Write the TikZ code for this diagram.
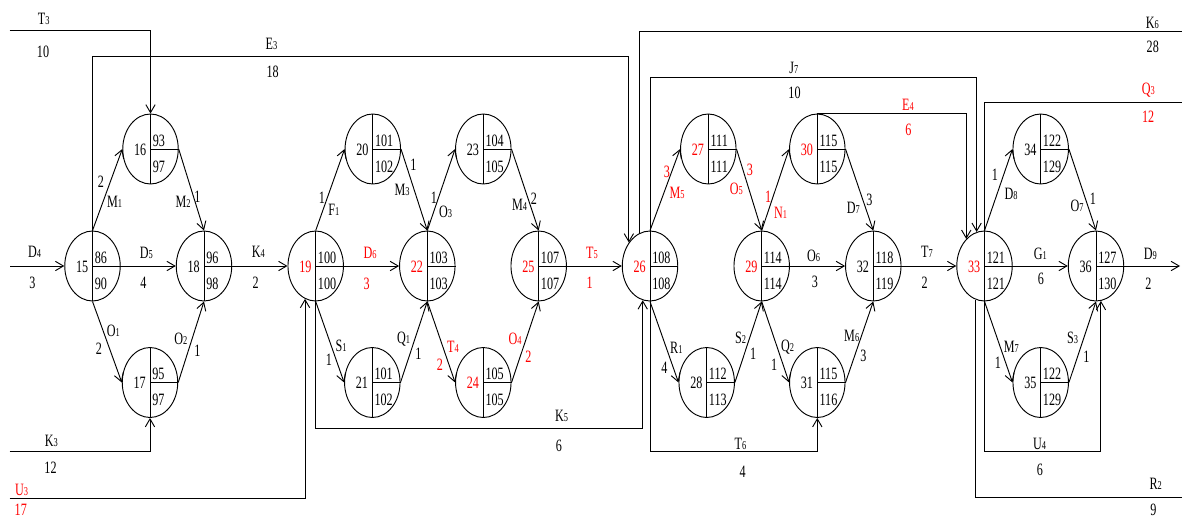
\documentclass[tikz,border=0pt]{standalone}
\usepackage{fontspec}
\setmainfont{Liberation Serif}[FakeStretch=0.7]
\usetikzlibrary{shapes.geometric,arrows.meta}
\tikzset{
 evt/.style={ellipse, draw, line width=0.7pt, minimum width=41.6pt, minimum height=52.5pt, inner sep=0pt},
 conn/.style={line width=0.7pt},
 arr/.style={conn, -{Straight Barb[length=6pt,width=7pt]}},
 lab/.style={inner sep=0pt, font=\fontsize{13}{15}\selectfont},
 rlab/.style={lab, text=red},
 num/.style={inner sep=0pt, font=\fontsize{13}{15}\selectfont},
}
\newcommand\sbl[2]{#1{\fontsize{9}{9}\selectfont #2}}
\newcommand\ev[7]{%
 \node[evt] (#1) at (#2,#3) {};
 \draw[conn] (#1.north) -- (#1.south) (#1.center) -- (#1.east);
 \node[num, anchor=base east, text=#7] (#1id) at ({#2-4},{#3+6}) {#4};
 \node[num, anchor=base west] (#1t) at ({#2+2},{#3-3}) {#5};
 \node[num, anchor=base west] (#1b) at ({#2+2},{#3+23}) {#6};
}
\newcommand\lb[4][lab]{\node[#1] (#2) at (#3) {#4};}
\begin{document}
\begin{tikzpicture}[x=0.75pt,y=-0.75pt]
\useasboundingbox (0,0) rectangle (1182,518);
% events
\ev{n15}{92.5}{266}{15}{86}{90}{black}
\ev{n16}{150.5}{149}{16}{93}{97}{black}
\ev{n17}{150}{382.5}{17}{95}{97}{black}
\ev{n18}{204}{266}{18}{96}{98}{black}
\ev{n19}{315.7}{266}{19}{100}{100}{red}
\ev{n20}{372.8}{149}{20}{101}{102}{black}
\ev{n21}{372.3}{382.5}{21}{101}{102}{black}
\ev{n22}{427.3}{266}{22}{103}{103}{red}
\ev{n23}{483.3}{149}{23}{104}{105}{black}
\ev{n24}{483.3}{382.5}{24}{105}{105}{red}
\ev{n25}{538.7}{266}{25}{107}{107}{red}
\ev{n26}{650}{266}{26}{108}{108}{red}
\ev{n27}{708.3}{149}{27}{111}{111}{red}
\ev{n28}{706.7}{382.5}{28}{112}{113}{black}
\ev{n29}{761.7}{266}{29}{114}{114}{red}
\ev{n30}{817.3}{149}{30}{115}{115}{red}
\ev{n31}{817.3}{382.5}{31}{115}{116}{black}
\ev{n32}{873.3}{266}{32}{118}{119}{black}
\ev{n33}{984.5}{266}{33}{121}{121}{red}
\ev{n34}{1040.7}{149}{34}{122}{129}{black}
\ev{n35}{1040.7}{382.5}{35}{122}{129}{black}
\ev{n36}{1096}{266}{36}{127}{130}{black}
% free ends and corners
\coordinate (t3a) at (9.5,30.7);
\coordinate (d4a) at (10,266);
\coordinate (k3a) at (9.5,451.7);
\coordinate (u3a) at (9.5,498.5);
\coordinate (e3a) at (92.5,56.5);
\coordinate (k5a) at (315.7,428);
\coordinate (k6a) at (1182,31);
\coordinate (j7a) at (650,77.7);
\coordinate (t6a) at (650,451.7);
\coordinate (q3a) at (1182,102);
\coordinate (u4a) at (984.5,451.7);
\coordinate (r2a) at (1182,497);
\coordinate (d9a) at (1180,266);
% connectors
\draw[arr] (t3a) -| (n16.north);
\draw[arr] (d4a) -- (n15.west);
\draw[arr] (k3a) -| (n17.south);
\draw[arr] (u3a) -| (n19.252);
\draw[arr] (n15.north) -- (e3a) -| (n26.132);
\draw[arr] (n15.north) -- (n16.west);
\draw[arr] (n16.east) -- (n18.north);
\draw[arr] (n15.east) -- (n18.west);
\draw[arr] (n15.south) -- (n17.west);
\draw[arr] (n17.east) -- (n18.south);
\draw[arr] (n18.east) -- (n19.west);
\draw[arr] (n19.north) -- (n20.west);
\draw[arr] (n20.east) -- (n22.north);
\draw[arr] (n19.east) -- (n22.west);
\draw[arr] (n19.south) -- (n21.west);
\draw[arr] (n21.east) -- (n22.south);
\draw[arr] (n22.north) -- (n23.west);
\draw[arr] (n23.east) -- (n25.north);
\draw[arr] (n22.south) -- (n24.west);
\draw[arr] (n24.east) -- (n25.south);
\draw[arr] (n25.east) -- (n26.west);
\draw[arr] (n19.south) -- (k5a) -| (n26.258);
\draw[conn] (n26.108) |- (k6a);
\draw[arr] (n26.north) -- (j7a) -| (n33.103);
\draw[arr] (n30.north) -| (n33.124);
\draw[arr] (n26.north) -- (n27.west);
\draw[arr] (n27.east) -- (n29.north);
\draw[arr] (n29.north) -- (n30.west);
\draw[arr] (n30.east) -- (n32.north);
\draw[arr] (n29.east) -- (n32.west);
\draw[arr] (n32.east) -- (n33.west);
\draw[arr] (n26.south) -- (n28.west);
\draw[arr] (n28.east) -- (n29.south);
\draw[arr] (n29.south) -- (n31.west);
\draw[arr] (n31.east) -- (n32.south);
\draw[arr] (n26.south) -- (t6a) -| (n31.south);
\draw[conn] (n33.north) |- (q3a);
\draw[arr] (n33.north) -- (n34.west);
\draw[arr] (n34.east) -- (n36.north);
\draw[arr] (n33.east) -- (n36.west);
\draw[arr] (n36.east) -- (d9a);
\draw[arr] (n33.south) -- (n35.west);
\draw[arr] (n35.east) -- (n36.south);
\draw[arr] (n33.south) -- (u4a) -| (n36.278);
\draw[conn] (n33.255) |- (r2a);
% labels left
\lb{lT3}{43.7,19}{\sbl{T}{3}}
\lb{lT3n}{43,51.7}{10}
\lb{lE3}{271.5,44}{\sbl{E}{3}}
\lb{lE3n}{272.7,71.7}{18}
\lb{lM1n}{101,182}{2}
\lb{lM1}{114.5,201.7}{\sbl{M}{1}}
\lb{lM2}{183,201.7}{\sbl{M}{2}}
\lb{lM2n}{197.5,196.7}{1}
\lb{lD4}{34.5,252}{\sbl{D}{4}}
\lb{lD4n}{32.5,283}{3}
\lb{lD5}{146.3,253}{\sbl{D}{5}}
\lb{lD5n}{143.3,283}{4}
\lb{lK4}{258.3,252}{\sbl{K}{4}}
\lb{lK4n}{255.7,283}{2}
\lb{lO1}{113.3,331}{\sbl{O}{1}}
\lb{lO1n}{99,349}{2}
\lb{lO2}{180.8,339}{\sbl{O}{2}}
\lb{lO2n}{197.5,351}{1}
\lb{lK3}{51.3,440.5}{\sbl{K}{3}}
\lb{lK3n}{50.5,467.5}{12}
\lb[rlab]{lU3}{21.7,490}{\sbl{U}{3}}
\lb[rlab]{lU3n}{20.8,509.5}{17}
% labels middle
\lb{lF1n}{322,197.5}{1}
\lb{lF1}{333.8,209.7}{\sbl{F}{1}}
\lb{lM3n}{413.3,165}{1}
\lb{lM3}{402,189.5}{\sbl{M}{3}}
\lb{lO3n}{434,197.5}{1}
\lb{lO3}{445.5,212}{\sbl{O}{3}}
\lb{lM4}{519.5,205}{\sbl{M}{4}}
\lb{lM4n}{534,199}{2}
\lb[rlab]{lD6}{370,253}{\sbl{D}{6}}
\lb[rlab]{lD6n}{366.7,283.5}{3}
\lb[rlab]{lT5}{592,253}{\sbl{T}{5}}
\lb[rlab]{lT5n}{589.7,283}{1}
\lb{lS1}{341,346}{\sbl{S}{1}}
\lb{lS1n}{329,360}{1}
\lb{lQ1}{403.7,339.5}{\sbl{Q}{1}}
\lb{lQ1n}{418.5,353.3}{1}
\lb[rlab]{lT4}{453,346.7}{\sbl{T}{4}}
\lb[rlab]{lT4n}{440,365}{2}
\lb[rlab]{lO4}{515,339}{\sbl{O}{4}}
\lb[rlab]{lO4n}{528.3,356.3}{2}
\lb{lK5}{561.7,415.8}{\sbl{K}{5}}
\lb{lK5n}{559,446}{6}
% labels right
\lb{lK6}{1152.3,22.5}{\sbl{K}{6}}
\lb{lK6n}{1152.8,46.7}{28}
\lb{lJ7}{793.8,67.5}{\sbl{J}{7}}
\lb{lJ7n}{794.5,92.7}{10}
\lb[rlab]{lE4}{908,104.5}{\sbl{E}{4}}
\lb[rlab]{lE4n}{908.3,129.7}{6}
\lb[rlab]{lM5n}{667,171.7}{3}
\lb[rlab]{lM5}{677,192.5}{\sbl{M}{5}}
\lb[rlab]{lO5}{736.3,189}{\sbl{O}{5}}
\lb[rlab]{lO5n}{750,169.7}{3}
\lb[rlab]{lN1n}{768.2,196.7}{1}
\lb[rlab]{lN1}{780.7,213}{\sbl{N}{1}}
\lb{lD7}{853.3,207.8}{\sbl{D}{7}}
\lb{lD7n}{869.5,200}{3}
\lb{lO6}{813.7,256}{\sbl{O}{6}}
\lb{lO6n}{815,282}{3}
\lb{lT7}{927,252}{\sbl{T}{7}}
\lb{lT7n}{924.7,283}{2}
\lb{lR1}{676.3,347.5}{\sbl{R}{1}}
\lb{lR1n}{664.3,367.5}{4}
\lb{lS2}{740.5,338.3}{\sbl{S}{2}}
\lb{lS2n}{753.2,353.3}{1}
\lb{lQ2}{787.7,346.7}{\sbl{Q}{2}}
\lb{lQ2n}{774.2,365}{1}
\lb{lM6}{851.7,335.8}{\sbl{M}{6}}
\lb{lM6n}{863.3,356.3}{3}
\lb{lT6}{740.5,444}{\sbl{T}{6}}
\lb{lT6n}{742.7,471.7}{4}
\lb[rlab]{lQ3}{1148.3,90}{\sbl{Q}{3}}
\lb[rlab]{lQ3n}{1148.2,116.7}{12}
\lb{lD8n}{994.8,175}{1}
\lb{lD8}{1011,194.2}{\sbl{D}{8}}
\lb{lO7}{1077,206.3}{\sbl{O}{7}}
\lb{lO7n}{1092.8,199.2}{1}
\lb{lG1}{1040.3,254}{\sbl{G}{1}}
\lb{lG1n}{1041,278.8}{6}
\lb{lD9}{1150.3,254}{\sbl{D}{9}}
\lb{lD9n}{1148.3,283.3}{2}
\lb{lM7}{1011.3,346.7}{\sbl{M}{7}}
\lb{lM7n}{997.8,362.5}{1}
\lb{lS3}{1072.5,338.3}{\sbl{S}{3}}
\lb{lS3n}{1086.5,356.7}{1}
\lb{lU4}{1039.7,444}{\sbl{U}{4}}
\lb{lU4n}{1040,470}{6}
\lb{lR2}{1155.7,483.5}{\sbl{R}{2}}
\lb{lR2n}{1153.3,510}{9}
\end{tikzpicture}
\end{document}
